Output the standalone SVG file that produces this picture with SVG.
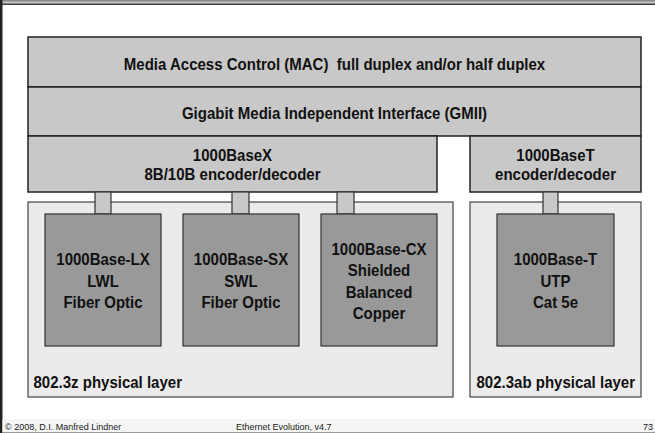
<svg xmlns="http://www.w3.org/2000/svg" width="655" height="433" viewBox="0 0 655 433">
  <style>
    .layer { fill: #c8c8c8; stroke: #222; stroke-width: 1.5; }
    .phys { fill: #ebebeb; stroke: #444; stroke-width: 1.2; }
    .media { fill: #999; stroke: #333; stroke-width: 1.2; }
    .link { fill: #c8c8c8; stroke: #333; stroke-width: 1.2; }
    /* condensed bold face: Liberation Sans squeezed horizontally per label */
    .t { font-family: "Liberation Sans", Arial, sans-serif; font-weight: bold; font-size: 16.5px; fill: #111; text-anchor: middle; }
    .lbl { font-family: "Liberation Sans", Arial, sans-serif; font-weight: bold; font-size: 16.5px; fill: #111; }
    .foot { font-family: "Liberation Sans", Arial, sans-serif; font-size: 9px; fill: #222; }
  </style>
  <defs>
    <linearGradient id="topband" x1="0" y1="0" x2="0" y2="1">
      <stop offset="0" stop-color="#777"/>
      <stop offset="0.5" stop-color="#c4c4c4"/>
      <stop offset="1" stop-color="#222"/>
    </linearGradient>
  </defs>

  <!-- page frame -->
  <rect x="0" y="0" width="655" height="433" fill="#fff"/>
  <rect x="0" y="0" width="655" height="5" fill="url(#topband)"/>
  <rect x="0" y="0" width="2.5" height="433" fill="#222"/>
  <rect x="2.5" y="419" width="652.5" height="13" fill="#f5f5f5"/>
  <line x1="2.5" y1="432.5" x2="655" y2="432.5" stroke="#999" stroke-width="1"/>

  <!-- upper protocol layers -->
  <g id="mac">
    <rect class="layer" x="28" y="37" width="613" height="50"/>
    <text class="t" xml:space="preserve" transform="translate(334.5,69.5) scale(0.91,1)">Media Access Control (MAC)  full duplex and/or half duplex</text>
  </g>
  <g id="gmii">
    <rect class="layer" x="28" y="87" width="613" height="49"/>
    <text class="t" transform="translate(334.5,119.3) scale(0.91,1)">Gigabit Media Independent Interface (GMII)</text>
  </g>
  <g id="enc-x">
    <rect class="layer" x="28" y="136" width="409" height="56"/>
    <text class="t" transform="translate(232.5,160.5) scale(0.91,1)">1000BaseX</text>
    <text class="t" transform="translate(232.5,179.5) scale(0.91,1)">8B/10B encoder/decoder</text>
  </g>
  <g id="enc-t">
    <rect class="layer" x="470" y="136" width="171" height="56"/>
    <text class="t" transform="translate(555.5,160.5) scale(0.91,1)">1000BaseT</text>
    <text class="t" transform="translate(555.5,179.5) scale(0.91,1)">encoder/decoder</text>
  </g>

  <!-- physical layer containers -->
  <g id="phy-z">
    <rect class="phys" x="28" y="202" width="425" height="195"/>
    <text class="lbl" transform="translate(33.5,388.3) scale(0.91,1)">802.3z physical layer</text>
  </g>
  <g id="phy-ab">
    <rect class="phys" x="470" y="202" width="171" height="195"/>
    <text class="lbl" transform="translate(476.5,388.3) scale(0.91,1)">802.3ab physical layer</text>
  </g>

  <!-- connectors between encoders and media -->
  <g id="connectors">
    <rect class="link" x="95" y="192" width="16" height="22"/>
    <rect class="link" x="232" y="192" width="17" height="22"/>
    <rect class="link" x="337" y="192" width="17" height="22"/>
    <rect class="link" x="543" y="192" width="15" height="22"/>
  </g>

  <!-- media types -->
  <g id="lx">
    <rect class="media" x="45" y="214" width="116" height="132"/>
    <text class="t" transform="translate(103,265) scale(0.91,1)">1000Base-LX</text>
    <text class="t" transform="translate(103,286.7) scale(0.91,1)">LWL</text>
    <text class="t" transform="translate(103,308.3) scale(0.91,1)">Fiber Optic</text>
  </g>
  <g id="sx">
    <rect class="media" x="183" y="214" width="116" height="132"/>
    <text class="t" transform="translate(241,265) scale(0.91,1)">1000Base-SX</text>
    <text class="t" transform="translate(241,286.7) scale(0.91,1)">SWL</text>
    <text class="t" transform="translate(241,308.3) scale(0.91,1)">Fiber Optic</text>
  </g>
  <g id="cx">
    <rect class="media" x="321" y="214" width="116" height="132"/>
    <text class="t" transform="translate(379,255) scale(0.91,1)">1000Base-CX</text>
    <text class="t" transform="translate(379,276.3) scale(0.91,1)">Shielded</text>
    <text class="t" transform="translate(379,297.6) scale(0.91,1)">Balanced</text>
    <text class="t" transform="translate(379,319) scale(0.91,1)">Copper</text>
  </g>
  <g id="t">
    <rect class="media" x="497" y="214" width="117" height="132"/>
    <text class="t" transform="translate(555.5,265) scale(0.91,1)">1000Base-T</text>
    <text class="t" transform="translate(555.5,286.7) scale(0.91,1)">UTP</text>
    <text class="t" transform="translate(555.5,308.3) scale(0.91,1)">Cat 5e</text>
  </g>

  <!-- footer -->
  <text class="foot" x="5" y="430">© 2008, D.I. Manfred Lindner</text>
  <text class="foot" x="236" y="430">Ethernet Evolution, v4.7</text>
  <text class="foot" x="653" y="430" text-anchor="end">73</text>
</svg>
